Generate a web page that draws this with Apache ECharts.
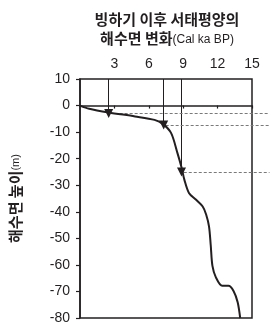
<!DOCTYPE html>
<html>
<head>
<meta charset="utf-8">
<script src="https://cdn.jsdelivr.net/npm/echarts@6/dist/echarts.min.js"></script>
<style>
  html, body { margin: 0; padding: 0; background: #fff; }
  #chart { width: 270px; height: 325px; }
</style>
</head>
<body>
<div id="chart"></div>
<script>
// 해수면 곡선 (age ka BP, 해수면 m)
var ages = [0, 0.8, 2.5, 4.8, 6.5, 7.25, 7.95, 8.5, 8.85, 9.1, 9.5, 10.1, 10.7, 11.0, 11.25, 11.4, 11.55, 11.85, 12.4, 12.95, 13.4, 13.75, 13.97];
var levels = [0, -1.2, -2.6, -4.1, -5.4, -7.0, -10.4, -17.9, -23.2, -27.9, -32.9, -35.4, -38.0, -41.0, -45.5, -52.5, -60.4, -64.7, -67.9, -67.9, -69.9, -74.1, -80];

// 화살표 / 점선
var markAges = [2.5, 7.3, 8.85];
var markLevels = [-3.0, -7.3, -25.0];
var dashEnd = 16.5;

var xTicks = [0, 15, 3];
var yTicks = [-80, 10, 10];

var ink = '#231f20';
var font = '"Liberation Sans", Arial, "Noto Sans CJK KR", sans-serif';
var kr = '"Noto Sans CJK KR", sans-serif';

var gridLeft = 77, gridRight = 18, gridTop = 79, gridBottom = 6, W = 270;

var curve = ages.map(function (a, i) { return [a, levels[i]]; });

var arrowLines = markAges.map(function (a, i) {
    return [{coord: [a, yTicks[1]]}, {coord: [a, markLevels[i]]}];
});
var dashLines = markAges.map(function (a, i) {
    return [{coord: [a + 0.3, markLevels[i]]}, {coord: [dashEnd, markLevels[i]]}];
});

var hiddenAxis = {
    show: false,
    axisLine: {show: false}, axisTick: {show: false}, axisLabel: {show: false}, splitLine: {show: false}
};

var chart = echarts.init(document.getElementById('chart'));
chart.setOption({
    animation: false,
    backgroundColor: '#fff',
    title: {
        text: '{b|빙하기 이후 서태평양의}\n{b|해수면 변화}{s|(Cal ka BP)}',
        left: 162,
        textAlign: 'center',
        top: 5,
        textStyle: {
            rich: {
                b: {fontSize: 15, fontWeight: 'bold', color: ink, fontFamily: kr, lineHeight: 19},
                s: {fontSize: 12, fontWeight: 'normal', color: ink, fontFamily: font, lineHeight: 19, padding: [2, 0, 0, 0]}
            }
        }
    },
    grid: [{
        left: gridLeft,
        right: gridRight,
        top: gridTop,
        bottom: gridBottom,
        show: true,
        borderColor: ink,
        borderWidth: 1.5
    }, {
        // 점선이 그림 오른쪽 끝까지 나가도록 같은 눈금의 넓은 grid
        left: gridLeft,
        right: 0,
        top: gridTop,
        bottom: gridBottom
    }],
    xAxis: [{
        type: 'value',
        position: 'top',
        min: xTicks[0],
        max: xTicks[1],
        interval: xTicks[2],
        axisLine: {show: true, lineStyle: {color: ink, width: 1.5}},
        axisTick: {show: true, inside: true, length: 3, lineStyle: {color: ink, width: 1.2}},
        axisLabel: {
            showMinLabel: false,
            color: ink,
            fontSize: 14,
            fontFamily: font,
            margin: 8
        },
        splitLine: {show: false}
    }, Object.assign({
        type: 'value',
        gridIndex: 1,
        min: xTicks[0],
        max: xTicks[1] * (W - gridLeft) / (W - gridLeft - gridRight)
    }, hiddenAxis)],
    yAxis: [{
        type: 'value',
        min: yTicks[0],
        max: yTicks[1],
        interval: yTicks[2],
        name: '{b|해수면 높이}{s|(m)}',
        nameLocation: 'middle',
        nameGap: 57,
        nameTextStyle: {
            rich: {
                b: {fontSize: 15, fontWeight: 'bold', color: ink, fontFamily: kr},
                s: {fontSize: 11, color: ink, fontFamily: font}
            }
        },
        axisLine: {show: true, lineStyle: {color: ink, width: 1.5}},
        axisTick: {show: true, length: 4, lineStyle: {color: ink, width: 1.2}},
        axisLabel: {color: ink, fontSize: 14, fontFamily: font, margin: 10},
        splitLine: {show: false}
    }, Object.assign({
        type: 'value',
        gridIndex: 1,
        min: yTicks[0],
        max: yTicks[1]
    }, hiddenAxis)],
    series: [
        {
            type: 'line',
            data: curve,
            smooth: 0.3,
            symbol: 'none',
            clip: false,
            lineStyle: {color: ink, width: 2},
            z: 5
        },
        {
            type: 'line',
            data: [],
            markLine: {
                silent: true,
                symbol: ['none', 'triangle'],
                symbolSize: [9, 9],
                label: {show: false},
                lineStyle: {color: ink, width: 1, type: 'solid'},
                data: arrowLines
            },
            z: 6
        },
        {
            type: 'line',
            xAxisIndex: 1,
            yAxisIndex: 1,
            data: [],
            markLine: {
                silent: true,
                symbol: ['none', 'none'],
                label: {show: false},
                lineStyle: {color: '#7a7a7a', width: 1, type: [3, 2]},
                data: dashLines
            },
            z: 4
        }
    ]
});
</script>
</body>
</html>
